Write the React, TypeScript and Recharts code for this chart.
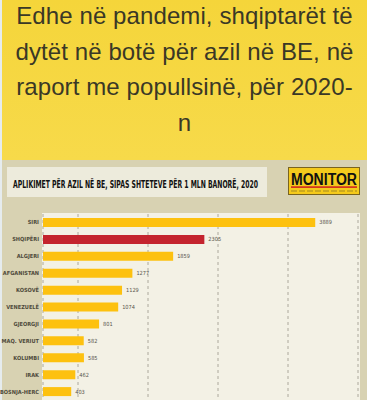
import React from "react";
import { BarChart, Bar, XAxis, YAxis, CartesianGrid, Cell, LabelList } from "recharts";

const titleLines = ["Edhe në pandemi, shqiptarët të", "dytët në botë për azil në BE, në", "raport me popullsinë, për 2020-", "n"];
const chartHeader = "APLIKIMET PËR AZIL NË BE, SIPAS SHTETEVE PËR 1 MLN BANORË, 2020";
const countries = ["SIRI", "SHQIPËRI", "ALGJERI", "AFGANISTAN", "KOSOVË", "VENEZUELË", "GJEORGJI", "MAQ. VERIUT", "KOLUMBI", "IRAK", "BOSNJA-HERC"];
const applications = [3889, 2305, 1859, 1277, 1129, 1074, 801, 582, 585, 462, 403];
const highlight = "SHQIPËRI";
const xTicks = [0, 500, 1000, 1500, 2000, 2500, 3000, 3500, 4000, 4500];

const data = countries.map((name, i) => ({ name, value: applications[i] }));

const CatTick = (props: any) => {
  const { x, y, payload } = props;
  return (
    <text x={x} y={y} dy={2} textAnchor="end" fontSize={5.6} fill="#4f4b3c" fontFamily="'DejaVu Sans Condensed', 'DejaVu Sans'" fontWeight="bold">
      {payload.value}
    </text>
  );
};

export default function App() {
  return (
    <div style={{ position: "absolute", left: 0, top: 0, width: 367, height: 400, overflow: "hidden", background: "#D8D2B2" }}>
      <div style={{ position: "absolute", left: 0, top: 0, width: 367, height: 160, background: "linear-gradient(180deg, #F5D53A 0%, #F7DA4A 100%)" }} />
      <div style={{ position: "absolute", left: 0, top: 0, width: 2, height: 400, background: "#E6ECEE" }} />
      <div style={{ position: "absolute", left: 2, top: -2, width: 365, textAlign: "center", fontFamily: "'Liberation Sans', Arial, sans-serif", fontSize: 24, letterSpacing: 0.1, lineHeight: "35.5px", color: "#3a3826" }}>
        {titleLines.map((l, i) => (
          <div key={i}>{l}</div>
        ))}
      </div>
      <div style={{ position: "absolute", left: 7, top: 167, width: 260, height: 30, background: "#EDEBDC" }} />
      <svg style={{ position: "absolute", left: 0, top: 160 }} width={367} height={45}>
        <text x={13} y={27.5} fontSize={10.5} fontWeight="bold" fill="#111" fontFamily="'DejaVu Sans Condensed', 'DejaVu Sans'" textLength={245} lengthAdjust="spacingAndGlyphs">
          {chartHeader}
        </text>
        <rect x={288.5} y={7.5} width={71} height={27} fill="#F4CA1C" stroke="#7a6420" strokeWidth={1} />
        <text x={291} y={24.5} fontSize={16} fontWeight="bold" fill="#111" fontFamily="'Liberation Sans', Arial, sans-serif" textLength={66} lengthAdjust="spacingAndGlyphs">
          MONITOR
        </text>
        <rect x={291} y={26.3} width={66} height={1.6} fill="#D2261E" />
        <line x1={291} y1={31} x2={357} y2={31} stroke="#6b5a2a" strokeWidth={0.6} strokeDasharray="6 2" />
      </svg>
      <div style={{ position: "absolute", left: 42, top: 213, width: 318, height: 187, background: "#F3F1E5" }} />
      <div style={{ position: "absolute", left: 0, top: 205 }}>
        <BarChart
          width={367}
          height={195}
          data={data}
          layout="vertical"
          margin={{ top: 9, right: 9, bottom: 0, left: 0 }}
          barSize={9}
        >
          <CartesianGrid horizontal={false} vertical={true} stroke="#9a978a" strokeDasharray="3 3" strokeWidth={0.8} />
          <XAxis type="number" domain={[0, 4500]} ticks={xTicks} hide />
          <YAxis type="category" dataKey="name" width={43} axisLine={false} tickLine={false} tickSize={0} tickMargin={4} tick={<CatTick />} interval={0} />
          <Bar dataKey="value" isAnimationActive={false}>
            {data.map((d) => (
              <Cell key={d.name} fill={d.name === highlight ? "#C4242E" : "#FDC10F"} />
            ))}
            <LabelList dataKey="value" position="right" offset={4} fontSize={5.6} fill="#57544a" fontFamily="'DejaVu Sans Condensed', 'DejaVu Sans'" />
          </Bar>
        </BarChart>
      </div>
    </div>
  );
}
